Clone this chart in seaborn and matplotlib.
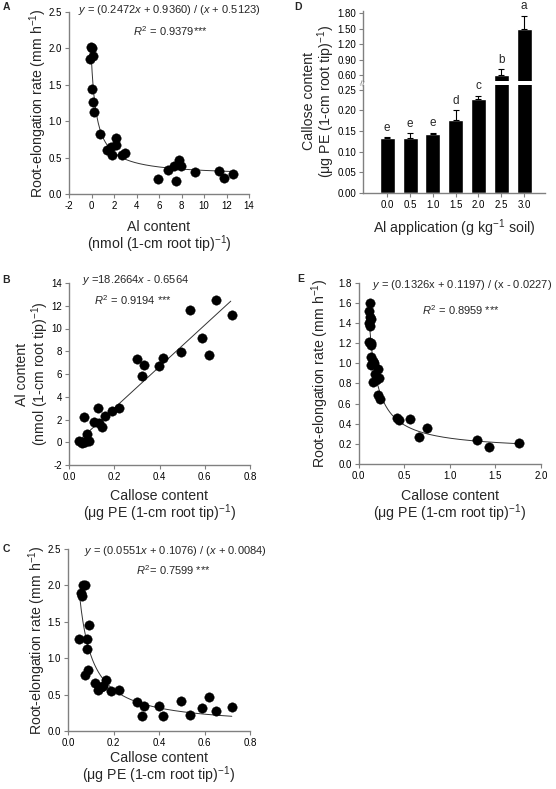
import numpy as np
import matplotlib
matplotlib.use('Agg')
import matplotlib.pyplot as plt
import seaborn as sns

# ---- data ----
# A: Al content vs root elongation
A_al = [-0.05, 0.0, 0.09, -0.09, 0.03, 0.12, 0.21, 0.74, 1.39, 1.69, 1.78, 2.16, 2.22, 2.73, 3.02,
        5.9, 6.81, 7.32, 7.5, 7.76, 7.97, 9.24, 11.29, 11.76, 12.59]
A_rate = [2.02, 2.0, 1.89, 1.85, 1.44, 1.27, 1.13, 0.83, 0.61, 0.65, 0.54, 0.77, 0.67, 0.54, 0.56,
          0.20, 0.33, 0.39, 0.18, 0.47, 0.39, 0.30, 0.32, 0.22, 0.27]
A_coef = [0.2472, 0.9360, 0.5123]

# B: callose vs Al content
B_callose = [0.046, 0.056, 0.062, 0.071, 0.081, 0.089, 0.068, 0.112, 0.126, 0.133, 0.146, 0.161, 0.189,
             0.219, 0.300, 0.321, 0.333, 0.398, 0.416, 0.494, 0.534, 0.590, 0.618, 0.649, 0.719]
B_al = [0.12, -0.06, 0.05, 0.0, 0.76, 0.12, 2.19, 1.81, 3.04, 1.69, 1.31, 2.31, 2.77,
        3.04, 7.33, 5.84, 6.83, 6.72, 7.45, 7.91, 11.62, 9.17, 7.68, 12.54, 11.21]
B_coef = [18.2664, -0.6564]

# C: callose vs root elongation
C_callose = [0.068, 0.076, 0.059, 0.062, 0.049, 0.091, 0.085, 0.084, 0.087, 0.076, 0.118, 0.131, 0.144,
             0.156, 0.166, 0.19, 0.222, 0.303, 0.325, 0.335, 0.40, 0.419, 0.496, 0.535, 0.591, 0.619,
             0.651, 0.719]
C_rate = [2.0, 2.0, 1.89, 1.85, 1.27, 1.45, 1.26, 1.13, 0.84, 0.77, 0.66, 0.56, 0.60,
          0.62, 0.70, 0.55, 0.56, 0.40, 0.21, 0.34, 0.34, 0.20, 0.41, 0.22, 0.31, 0.47,
          0.27, 0.33]
C_coef = [0.0551, 0.1076, 0.0084]

# D: callose content by Al application
D_levels = ['0.0', '0.5', '1.0', '1.5', '2.0', '2.5', '3.0']
D_callose = [0.132, 0.132, 0.143, 0.176, 0.2265, 0.61, 1.50]
D_err = [0.003, 0.012, 0.003, 0.024, 0.0085, 0.11, 0.245]
D_letters = ['e', 'e', 'e', 'd', 'c', 'b', 'a']

# E: callose vs root elongation (second experiment)
E_callose = [0.121, 0.11, 0.128, 0.135, 0.117, 0.121, 0.11, 0.139, 0.132, 0.139, 0.157, 0.132, 0.168,
             0.212, 0.183, 0.154, 0.194, 0.223, 0.212, 0.241, 0.424, 0.439, 0.563, 0.659, 0.754,
             1.303, 1.434, 1.764]
E_rate = [1.596, 1.52, 1.457, 1.44, 1.397, 1.374, 1.209, 1.199, 1.179, 1.066, 1.023, 0.983, 1.0,
          0.944, 0.89, 0.818, 0.834, 0.851, 0.685, 0.642, 0.46, 0.44, 0.447, 0.265, 0.354,
          0.238, 0.166, 0.212]
E_coef = [0.1326, 0.1197, -0.0227]

# ---- style ----
sns.set_theme(style='ticks')
plt.rcParams['font.family'] = ['Liberation Sans', 'DejaVu Sans']
plt.rcParams['mathtext.fontset'] = 'custom'
plt.rcParams['mathtext.rm'] = 'Liberation Sans'
plt.rcParams['mathtext.it'] = 'Liberation Sans:italic'
plt.rcParams['mathtext.bf'] = 'Liberation Sans:bold'
plt.rcParams['axes.unicode_minus'] = False

W, H = 556, 789
fig = plt.figure(figsize=(W / 100, H / 100), dpi=100)

AXC = '#808080'
TICK_FS = 7.0
LAB_FS = 10.2
ANN_FS = 8.0
DOT = 46
LS = 1.0


def px_axes(left, top, right, bottom):
    return fig.add_axes([left / W, 1 - bottom / H, (right - left) / W, (bottom - top) / H])


def style_ax(ax):
    sns.despine(ax=ax)
    for s in ['left', 'bottom']:
        ax.spines[s].set_color(AXC)
        ax.spines[s].set_linewidth(1.0)
    ax.tick_params(axis='both', labelsize=TICK_FS, length=3, width=0.8, color=AXC, pad=2,
                   direction='out', labelcolor='black')


def dots(ax, x, y):
    sns.scatterplot(x=x, y=y, ax=ax, color='black', s=DOT, edgecolor='black', linewidth=0.3,
                    legend=False, zorder=3)


def fit_line(ax, x, y):
    sns.lineplot(x=x, y=y, ax=ax, color='#333333', linewidth=0.7, zorder=2, sort=False)


UMLABEL = '(\u03bcg PE (1-cm root tip)$^{-1}$)'

# ---- A ----
axA = px_axes(69, 12, 249, 194)
fit_line(axA, xa := np.linspace(-0.03, 12.6, 300), (A_coef[0] * xa + A_coef[1]) / (xa + A_coef[2]))
dots(axA, A_al, A_rate)
axA.set_xlim(-2, 14)
axA.set_ylim(0, 2.5)
axA.set_xticks(np.arange(-2, 15, 2))
axA.set_yticks(np.arange(0, 2.51, 0.5))
axA.yaxis.set_major_formatter(matplotlib.ticker.FormatStrFormatter('%.1f'))
style_ax(axA)
axA.set_ylabel('Root-elongation rate (mm h$^{-1}$)', fontsize=LAB_FS, va='center')
axA.yaxis.set_label_coords(-0.172, 0.5)
axA.set_xlabel('Al content\n(nmol (1-cm root tip)$^{-1}$)', fontsize=LAB_FS, va='center', linespacing=LS)
axA.xaxis.set_label_coords(0.5, -0.239)
axA.text(0.556, 1.011, '$y$ = (0.2472$x$ + 0.9360) / ($x$ + 0.5123)', transform=axA.transAxes,
         ha='center', va='center', fontsize=ANN_FS)
axA.text(0.561, 0.897, '$R^2$ = 0.9379***', transform=axA.transAxes, ha='center', va='center', fontsize=ANN_FS)

# ---- B ----
axB = px_axes(69, 283, 250, 465)
fit_line(axB, xb := np.linspace(0.04, 0.715, 50), B_coef[0] * xb + B_coef[1])
dots(axB, B_callose, B_al)
axB.set_xlim(0, 0.8)
axB.set_ylim(-2, 14)
axB.set_xticks(np.arange(0, 0.81, 0.2))
axB.set_yticks(np.arange(-2, 15, 2))
axB.xaxis.set_major_formatter(matplotlib.ticker.FormatStrFormatter('%.1f'))
style_ax(axB)
axB.set_ylabel('Al content\n(nmol (1-cm root tip)$^{-1}$)', fontsize=LAB_FS, va='center', linespacing=LS)
axB.yaxis.set_label_coords(-0.2, 0.5)
axB.set_xlabel('Callose content\n' + UMLABEL, fontsize=LAB_FS, va='center', linespacing=LS)
axB.xaxis.set_label_coords(0.5, -0.228)
axB.text(0.365, 1.016, '$y$ =18.2664$x$ - 0.6564', transform=axB.transAxes,
         ha='center', va='center', fontsize=ANN_FS)
axB.text(0.356, 0.907, '$R^2$ = 0.9194 ***', transform=axB.transAxes, ha='center', va='center', fontsize=ANN_FS)

# ---- C ----
axC = px_axes(68, 549, 250, 731)
fit_line(axC, xc := np.linspace(0.052, 0.72, 300), (C_coef[0] * xc + C_coef[1]) / (xc + C_coef[2]))
dots(axC, C_callose, C_rate)
axC.set_xlim(0, 0.8)
axC.set_ylim(0, 2.5)
axC.set_xticks(np.arange(0, 0.81, 0.2))
axC.set_yticks(np.arange(0, 2.51, 0.5))
axC.xaxis.set_major_formatter(matplotlib.ticker.FormatStrFormatter('%.1f'))
axC.yaxis.set_major_formatter(matplotlib.ticker.FormatStrFormatter('%.1f'))
style_ax(axC)
axC.set_ylabel('Root-elongation rate (mm h$^{-1}$)', fontsize=LAB_FS, va='center')
axC.yaxis.set_label_coords(-0.168, 0.5)
axC.set_xlabel('Callose content\n' + UMLABEL, fontsize=LAB_FS, va='center', linespacing=LS)
axC.xaxis.set_label_coords(0.5, -0.205)
axC.text(0.588, 0.991, '$y$ = (0.0551$x$ + 0.1076) / ($x$ + 0.0084)', transform=axC.transAxes,
         ha='center', va='center', fontsize=ANN_FS)
axC.text(0.577, 0.885, '$R^2$= 0.7599 ***', transform=axC.transAxes, ha='center', va='center', fontsize=ANN_FS)

# ---- D (broken y axis) ----
axDl = px_axes(363.3, 85.3, 545.3, 192.7)
axDu = px_axes(363.3, 11, 545.3, 81)
for ax, lo, hi in [(axDl, 0, 0.2607), (axDu, 0.49, 1.839)]:
    sns.barplot(x=D_levels, y=D_callose, ax=ax, color='black', width=0.66, saturation=1, errorbar=None)
    pos = np.arange(len(D_levels))
    ax.errorbar(pos, D_callose, yerr=[np.zeros(len(D_err)), D_err], fmt='none', ecolor='black',
                elinewidth=0.8, capsize=2.2, capthick=0.8, zorder=3)
    ax.set_ylim(lo, hi)
    ax.set_xlim(-1.05, 6.93)
    style_ax(ax)
axDl.set_yticks(np.arange(0, 0.251, 0.05))
axDu.set_yticks(np.arange(0.6, 1.81, 0.3))
for ax in (axDl, axDu):
    ax.yaxis.set_major_formatter(matplotlib.ticker.FormatStrFormatter('%.2f'))
axDu.spines['bottom'].set_visible(False)
axDu.tick_params(axis='x', bottom=False, labelbottom=False)
axDu.set_xlabel('')
axDl.set_xlabel('Al application (g kg$^{-1}$ soil)', fontsize=LAB_FS, va='center')
axDl.xaxis.set_label_coords(0.5, -0.329)
axDl.set_ylabel('Callose content\n' + UMLABEL, fontsize=LAB_FS, va='center', linespacing=LS)
axDl.yaxis.set_label_coords(-0.24, 0.85)
# letters above error bars
for i, (v, e, t) in enumerate(zip(D_callose, D_err, D_letters)):
    ax = axDl if v + e < 0.26 else axDu
    ax.annotate(t, (i, v + e), xytext=(0, 2.5), textcoords='offset points', ha='center', va='bottom',
                fontsize=8.5, annotation_clip=False)
# break marks on the y axis
axDl.text(0.0, 1.025, '\u2248', transform=axDl.transAxes, rotation=75, ha='center', va='center',
          fontsize=8, color=AXC)

# ---- E ----
axE = px_axes(358.5, 282.6, 541, 464.2)
fit_line(axE, xe := np.linspace(0.105, 1.76, 300), (E_coef[0] * xe + E_coef[1]) / (xe + E_coef[2]))
dots(axE, E_callose, E_rate)
axE.set_xlim(0, 2.0)
axE.set_ylim(0, 1.8)
axE.set_xticks(np.arange(0, 2.01, 0.5))
axE.set_yticks(np.arange(0, 1.81, 0.2))
axE.xaxis.set_major_formatter(matplotlib.ticker.FormatStrFormatter('%.1f'))
axE.yaxis.set_major_formatter(matplotlib.ticker.FormatStrFormatter('%.1f'))
style_ax(axE)
axE.set_ylabel('Root-elongation rate (mm h$^{-1}$)', fontsize=LAB_FS, va='center')
axE.yaxis.set_label_coords(-0.21, 0.5)
axE.set_xlabel('Callose content\n' + UMLABEL, fontsize=LAB_FS, va='center', linespacing=LS)
axE.xaxis.set_label_coords(0.5, -0.232)
axE.text(0.569, 0.986, '$y$ = (0.1326x + 0.1197) / (x - 0.0227)', transform=axE.transAxes,
         ha='center', va='center', fontsize=ANN_FS)
axE.text(0.562, 0.848, '$R^2$ = 0.8959 ***', transform=axE.transAxes, ha='center', va='center', fontsize=ANN_FS)

# panel letters
for lab, x, y in [('A', 6, 7), ('B', 6.5, 280), ('C', 6, 549), ('D', 298, 7.5), ('E', 301, 279)]:
    fig.text(x / W, 1 - y / H, lab, ha='center', va='center', fontsize=7.5, fontweight='bold')

fig.savefig('out.png', dpi=100)
